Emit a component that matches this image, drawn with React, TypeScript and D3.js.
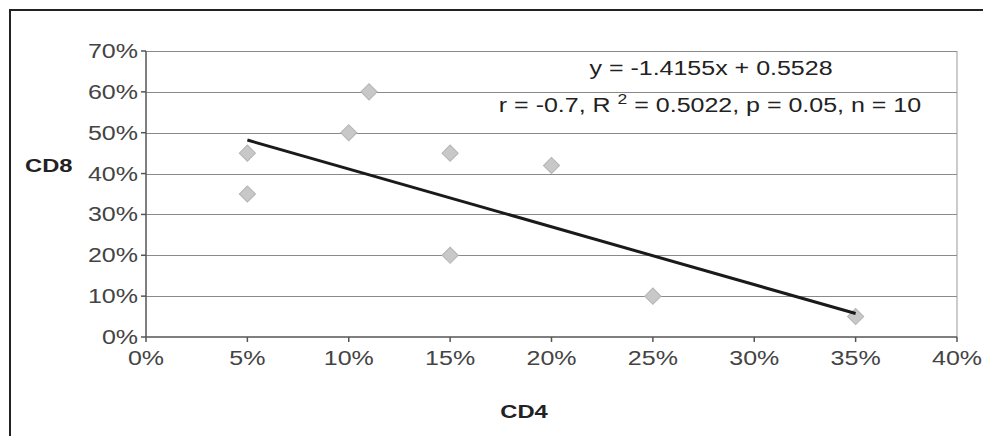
import * as d3 from 'd3';

const cd4 = [0.05, 0.05, 0.1, 0.11, 0.15, 0.15, 0.2, 0.25, 0.35];
const cd8 = [0.45, 0.35, 0.5, 0.6, 0.45, 0.2, 0.42, 0.1, 0.05];
const slope = -1.4155;
const intercept = 0.5528;
const xTicks = [0, 0.05, 0.1, 0.15, 0.2, 0.25, 0.3, 0.35, 0.4];
const yTicks = [0, 0.1, 0.2, 0.3, 0.4, 0.5, 0.6, 0.7];

// the scanned figure is stretched sideways, so text is widened a little
const SX = 1.25;

function T(props: { x: number; y: number; anchor?: string; children: any; size?: number; bold?: boolean }) {
  return (
    <text
      transform={`translate(${props.x},${props.y}) scale(${SX},1)`}
      textAnchor={props.anchor || 'start'}
      fontSize={props.size || 20}
      fontWeight={props.bold ? 'bold' : 'normal'}
    >
      {props.children}
    </text>
  );
}

export default function App() {
  const width = 983;
  const height = 436;
  const x = d3.scaleLinear().domain([0, 0.4]).range([146, 957]);
  const y = d3.scaleLinear().domain([0, 0.7]).range([337, 51]);
  const fmt = d3.format('.0%');

  const xMin = d3.min(cd4) as number;
  const xMax = d3.max(cd4) as number;
  const trend = d3.line<number>()
    .x((d) => x(d))
    .y((d) => y(slope * d + intercept))([xMin, xMax]);

  const marker = d3.symbol().type(d3.symbolSquare).size(130)();

  const font = 'Liberation Sans, Arial, sans-serif';

  return (
    <svg width={width} height={height} style={{ position: 'absolute', left: 0, top: 0 }}>
      <rect x={0} y={0} width={width} height={height} fill='#fff' />
      {/* frame: only top and left edges show in the scan */}
      <g stroke='#222' strokeWidth={2}>
        <line x1={9.5} x2={width} y1={10} y2={10} />
        <line x1={10} x2={10} y1={9} y2={height} />
      </g>

      {/* gridlines */}
      <g stroke='#8a8a8a' strokeWidth={1}>
        {yTicks.slice(1).map((t) => (
          <line key={`g${t}`} x1={x(0)} x2={x(0.4)} y1={Math.round(y(t)) + 0.5} y2={Math.round(y(t)) + 0.5} />
        ))}
      </g>
      <line x1={x(0.4)} x2={x(0.4)} y1={y(0.7)} y2={y(0)} stroke='#999' />

      {/* axes */}
      <g stroke='#555' strokeWidth={1.5}>
        <line x1={x(0)} x2={x(0)} y1={y(0.7)} y2={y(0)} />
        <line x1={x(0)} x2={x(0.4)} y1={y(0)} y2={y(0)} />
        {yTicks.map((t) => (
          <line key={`yt${t}`} x1={x(0) - 5} x2={x(0)} y1={y(t)} y2={y(t)} />
        ))}
        {xTicks.map((t) => (
          <line key={`xt${t}`} x1={x(t)} x2={x(t)} y1={y(0)} y2={y(0) + 5} />
        ))}
      </g>

      <g fontFamily={font} fill='#444'>
        {yTicks.map((t) => (
          <T key={`yl${t}`} x={x(0) - 8} y={y(t) + 7} anchor='end'>
            {fmt(t)}
          </T>
        ))}
        {xTicks.map((t) => (
          <T key={`xl${t}`} x={x(t)} y={365} anchor='middle'>
            {fmt(t)}
          </T>
        ))}
      </g>

      {/* points */}
      <g fill='#c8c8c8' stroke='#b4b4b4' strokeWidth={1}>
        {cd4.map((d, i) => (
          <path key={`p${i}`} d={marker as string} transform={`translate(${x(d)},${y(cd8[i])}) rotate(45)`} />
        ))}
      </g>

      <path d={trend as string} stroke='#1a1a1a' strokeWidth={3} fill='none' />

      <g fontFamily={font} fill='#222'>
        <T x={711} y={75} anchor='middle'>y = -1.4155x + 0.5528</T>
        <T x={710} y={112} anchor='middle'>
          r = -0.7, R <tspan dy={-8} fontSize={14}>2</tspan>
          <tspan dy={8}> = 0.5022, p = 0.05, n = 10</tspan>
        </T>
      </g>

      <g fontFamily={font} fill='#222'>
        <T x={25} y={172} size={19} bold>CD8</T>
        <T x={524} y={418} anchor='middle' size={19} bold>CD4</T>
      </g>
    </svg>
  );
}
